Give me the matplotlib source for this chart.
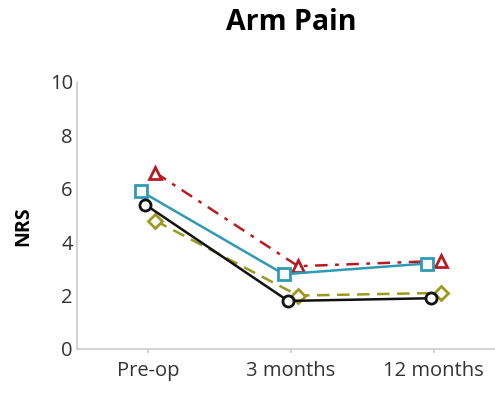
import matplotlib
matplotlib.use("Agg")
import matplotlib.pyplot as plt
import numpy as np

categories = ["Pre-op", "3 months", "12 months"]
triangle_vals = [6.6, 3.1, 3.3]
square_vals = [5.9, 2.8, 3.2]
circle_vals = [5.4, 1.8, 1.9]
diamond_vals = [4.8, 2.0, 2.1]

plt.rcParams['font.family'] = ['Open Sans', 'DejaVu Sans']

fig = plt.figure(figsize=(4.95, 3.95), dpi=100)
ax = fig.add_axes([0.1556, 0.1165, 0.8444, 0.676])

x = np.arange(len(categories))

ax.plot(x + 0.05, triangle_vals, color="#B81C22", linestyle=(0, (5, 3, 1.5, 3)), lw=1.8,
        marker="^", ms=9, mfc="white", mec="#B81C22", mew=2, zorder=3, clip_on=False)
ax.plot(x - 0.05, square_vals, color="#2E9AB3", linestyle="-", lw=1.8,
        marker="s", ms=9, mfc="white", mec="#2E9AB3", mew=2, zorder=4, clip_on=False)
ax.plot(x - 0.02, circle_vals, color="#111111", linestyle="-", lw=1.8,
        marker="o", ms=8, mfc="white", mec="#111111", mew=2, zorder=5, clip_on=False)
ax.plot(x + 0.05, diamond_vals, color="#9C9A1E", linestyle=(0, (5, 3)), lw=1.8,
        marker="D", ms=7, mfc="white", mec="#9C9A1E", mew=2, zorder=3, clip_on=False)

ax.set_xlim(-0.5, 2.43)
ax.set_ylim(0, 10)
ax.set_yticks([0, 2, 4, 6, 8, 10])
ax.set_xticks(x)
ax.set_xticklabels(categories)
ax.tick_params(axis="y", length=0, labelsize=14.5, colors="#333333", pad=3)
ax.tick_params(axis="x", length=3, width=1.1, color="#C8C8C8", labelsize=14.5,
               labelcolor="#333333", pad=6)
for s in ["top", "right"]:
    ax.spines[s].set_visible(False)
for s in ["left", "bottom"]:
    ax.spines[s].set_color("#C8C8C8")
    ax.spines[s].set_linewidth(1.1)

ax.set_ylabel("NRS", fontsize=14, fontweight="bold")
ax.yaxis.set_label_coords(-0.105, 0.46)
fig.text(0.588, 0.924, "Arm Pain", ha="center", va="baseline", fontsize=20.5, fontweight="bold")

fig.savefig("out.png", dpi=100)
